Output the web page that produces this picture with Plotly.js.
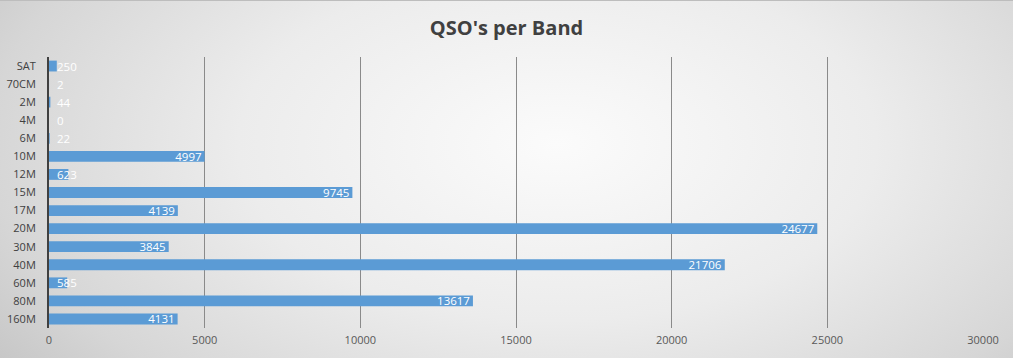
<!DOCTYPE html>
<html>
<head>
<meta charset="utf-8">
<script src="https://cdn.plot.ly/plotly-3.0.1.min.js"></script>
<style>
html,body{margin:0;padding:0;}
#chart{width:1013px;height:358px;
background: radial-gradient(ellipse 70% 110% at 55% 40%, #fbfbfb 0%, #ececec 45%, #d6d6d6 80%, #c3c3c3 100%);
border-top:1px solid #bdbdbd; box-sizing:border-box;}
</style>
</head>
<body>
<div id="chart"></div>
<script>
var bands = ["160M","80M","60M","40M","30M","20M","17M","15M","12M","10M","6M","4M","2M","70CM","SAT"];
var qsos  = [4131, 13617, 585, 21706, 3845, 24677, 4139, 9745, 623, 4997, 22, 0, 44, 2, 250];
var xTicks = [0, 5000, 10000, 15000, 20000, 25000, 30000];
var smallLimit = 1000;

var barText = qsos.map(function(v){ return v >= smallLimit ? String(v) : ""; });
var annotations = [];
bands.forEach(function(b, i){
  if (qsos[i] < smallLimit) {
    annotations.push({x: 0, y: b, xref: 'x', yref: 'y', text: String(qsos[i]),
      showarrow: false, xanchor: 'left', xshift: 6,
      font: {family: 'Open Sans, Liberation Sans, sans-serif', size: 11.5, color: '#ffffff'}});
  }
});

var trace = {
  type: 'bar', orientation: 'h',
  y: bands, x: qsos,
  text: barText, textposition: 'inside', insidetextanchor: 'end',
  constraintext: 'none', cliponaxis: false,
  textfont: {family: 'Open Sans, Liberation Sans, sans-serif', size: 11.5, color: '#ffffff'},
  marker: {color: '#5b9bd5', line: {width: 0}},
  hoverinfo: 'none'
};

var layout = {
  width: 1013, height: 358,
  paper_bgcolor: 'rgba(0,0,0,0)', plot_bgcolor: 'rgba(0,0,0,0)',
  margin: {l: 49, r: 30, t: 56, b: 31},
  bargap: 0.4,
  showlegend: false,
  title: {text: "<b>QSO's per Band</b>", x: 0.5, xanchor: 'center', y: 0.925, yanchor: 'middle',
    font: {family: 'Open Sans, Liberation Sans, sans-serif', size: 20, color: '#404040'}},
  xaxis: {range: [0, 30000], tickvals: xTicks, ticktext: xTicks.map(String),
    showgrid: true, gridcolor: '#8a8a8a', gridwidth: 1, zeroline: false,
    showline: false, ticks: '', ticklen: 0, ticklabelstandoff: 4,
    tickfont: {family: 'Open Sans, Liberation Sans, sans-serif', size: 11, color: '#595959'},
    fixedrange: true},
  yaxis: {type: 'category', categoryorder: 'array', categoryarray: bands,
    range: [-0.5, 14.5], showgrid: false, zeroline: false,
    showline: true, linecolor: '#404040', linewidth: 2, ticks: '',
    ticklabelstandoff: 9,
    tickfont: {family: 'Open Sans, Liberation Sans, sans-serif', size: 11, color: '#404040'},
    fixedrange: true},
  annotations: annotations
};

Plotly.newPlot('chart', [trace], layout, {displayModeBar: false, staticPlot: true});
</script>
</body>
</html>
